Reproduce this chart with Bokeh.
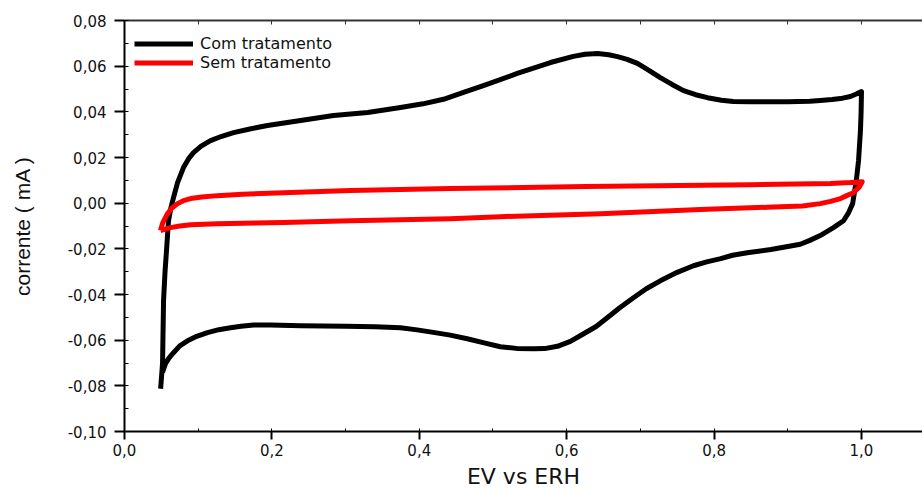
from bokeh.plotting import figure
from bokeh.models import (LinearAxis, SingleIntervalTicker, CustomJSTickFormatter,
                          Legend, LegendItem, Range1d)
from bokeh.embed import file_html
from bokeh.resources import INLINE

# Com tratamento (black): anodic sweep then cathodic sweep
com_x = [0.049, 0.0505, 0.0516, 0.053, 0.055, 0.057, 0.0597, 0.063, 0.0665, 0.072, 0.080,
         0.087, 0.0936, 0.104, 0.1167, 0.132, 0.148, 0.17, 0.194, 0.239, 0.2836, 0.330,
         0.3745, 0.405, 0.4328, 0.46, 0.487, 0.533, 0.578, 0.609, 0.625, 0.642, 0.657,
         0.669, 0.682, 0.696, 0.711, 0.727, 0.743, 0.7585, 0.775, 0.791, 0.81, 0.826,
         0.849, 0.90, 0.93, 0.944, 0.96, 0.9715, 0.985, 0.993, 1.0,
         0.9995, 0.9986, 0.996, 0.993, 0.988, 0.982, 0.9756, 0.962, 0.944, 0.93, 0.917,
         0.90, 0.877, 0.845, 0.825, 0.809, 0.79, 0.772, 0.75, 0.727, 0.708, 0.6906, 0.672,
         0.655, 0.64, 0.623, 0.605, 0.5875, 0.57, 0.555, 0.532, 0.510, 0.488, 0.465, 0.442,
         0.419, 0.397, 0.3745, 0.34, 0.30, 0.239, 0.198, 0.175, 0.158, 0.1438, 0.128,
         0.1126, 0.098, 0.0855, 0.075, 0.0665, 0.060, 0.0556, 0.0516]
com_y = [-0.0813, -0.0750, -0.0703, -0.0427, -0.0300, -0.0208, -0.0077, -0.0020, 0.0024,
         0.0090, 0.0156, 0.0195, 0.0221, 0.0250, 0.0274, 0.0293, 0.0309, 0.0325, 0.0340,
         0.0362, 0.0384, 0.0397, 0.0419, 0.0435, 0.0455, 0.0485, 0.0515, 0.0568, 0.0616,
         0.0643, 0.0652, 0.0655, 0.0650, 0.0642, 0.0630, 0.0612, 0.0583, 0.0550, 0.0520,
         0.0493, 0.0475, 0.0462, 0.0451, 0.0445, 0.0444, 0.0444, 0.0446, 0.0450, 0.0454,
         0.0458, 0.0467, 0.0478, 0.0489,
         0.0400, 0.0318, 0.0186, 0.0099, -0.0002, -0.0045, -0.0077, -0.0107, -0.0142,
         -0.0163, -0.0180, -0.0190, -0.0203, -0.0217, -0.0228, -0.0243, -0.0257, -0.0274,
         -0.0303, -0.0340, -0.0375, -0.0414, -0.0458, -0.0502, -0.0540, -0.0572, -0.0605,
         -0.0627, -0.0637, -0.0638, -0.0636, -0.0629, -0.0612, -0.0594, -0.0578, -0.0566,
         -0.0555, -0.0546, -0.0541, -0.0539, -0.0537, -0.0534, -0.0534, -0.0539, -0.0546,
         -0.0554, -0.0567, -0.0583, -0.0603, -0.0625, -0.0655, -0.0680, -0.0703, -0.0740]

# Sem tratamento (red)
sem_x = [0.0488, 0.052, 0.0583, 0.064, 0.072, 0.08, 0.0896, 0.105, 0.126, 0.16, 0.216,
         0.3066, 0.442, 0.6255, 0.849, 0.958, 0.985, 1.001,
         0.997, 0.989, 0.98, 0.9715, 0.958, 0.944, 0.92, 0.88, 0.849, 0.7815, 0.646, 0.510,
         0.442, 0.3066, 0.216, 0.126, 0.09, 0.075, 0.0624, 0.0488]
sem_y = [-0.0120, -0.0085, -0.0046, -0.0022, -0.0002, 0.0011, 0.0020, 0.0027, 0.0033,
         0.0039, 0.0046, 0.0055, 0.0064, 0.0073, 0.0081, 0.0086, 0.0090, 0.0094,
         0.0070, 0.0046, 0.0033, 0.0020, 0.0008, -0.0002, -0.0012, -0.0017, -0.0020,
         -0.0028, -0.0046, -0.0059, -0.0068, -0.0077, -0.0085, -0.0090, -0.0095, -0.0100,
         -0.0107, -0.0120]

series_names = ["Com tratamento", "Sem tratamento"]
x_label = "EV vs ERH"
y_label = "corrente ( mA )"

FONT = "DejaVu Sans"

p = figure(width=922, height=491, output_backend="svg", toolbar_location=None,
           x_range=Range1d(0.0, 1.0828), y_range=Range1d(-0.10, 0.08),
           min_border_left=124, min_border_right=0, min_border_top=20, min_border_bottom=60)
p.outline_line_color = None
p.xgrid.visible = False
p.ygrid.visible = False
p.background_fill_color = "white"
p.border_fill_color = "white"

r1 = p.line(com_x, com_y, line_color="black", line_width=5, line_join="round")
r2 = p.line(sem_x, sem_y, line_color="#ff0000", line_width=5, line_join="round")

xa = p.xaxis[0]
xa.ticker = SingleIntervalTicker(interval=0.2, num_minor_ticks=2)
xa.formatter = CustomJSTickFormatter(code="var t = Math.abs(tick) < 1e-9 ? 0 : tick; return t.toFixed(1).replace('.', ',');")
xa.axis_line_width = 2
xa.axis_line_color = "black"
xa.major_tick_out = 8
xa.major_tick_in = 0
xa.major_tick_line_width = 2
xa.minor_tick_in = 3
xa.minor_tick_out = 0
xa.minor_tick_line_width = 1
xa.major_label_text_font = FONT
xa.major_label_text_font_size = "15px"
xa.major_label_text_color = "#111111"
xa.major_label_standoff = 4
xa.axis_label = x_label
xa.axis_label_text_font = FONT
xa.axis_label_text_font_size = "22px"
xa.axis_label_text_font_style = "normal"
xa.axis_label_text_color = "#111111"
xa.axis_label_standoff = 5

ya = p.yaxis[0]
ya.ticker = SingleIntervalTicker(interval=0.02, num_minor_ticks=2)
ya.formatter = CustomJSTickFormatter(code="var t = Math.abs(tick) < 1e-9 ? 0 : tick; return t.toFixed(2).replace('.', ',');")
ya.axis_line_width = 2
ya.axis_line_color = "black"
ya.major_tick_out = 10
ya.major_tick_in = 0
ya.major_tick_line_width = 2
ya.minor_tick_in = 4
ya.minor_tick_out = 0
ya.minor_tick_line_width = 1
ya.major_label_text_font = FONT
ya.major_label_text_font_size = "15px"
ya.major_label_text_color = "#111111"
ya.major_label_standoff = 8
ya.axis_label = y_label
ya.axis_label_text_font = "Liberation Sans"
ya.axis_label_text_font_size = "21px"
ya.axis_label_text_font_style = "normal"
ya.axis_label_text_color = "#111111"
ya.axis_label_standoff = 31

top = LinearAxis(ticker=SingleIntervalTicker(interval=0.1, num_minor_ticks=0))
top.formatter = CustomJSTickFormatter(code="return '';")
top.axis_line_width = 2
top.axis_line_color = "#333333"
top.major_tick_in = 4
top.major_tick_out = 0
top.major_tick_line_color = "#333333"
top.minor_tick_in = 0
top.minor_tick_out = 0
top.major_label_text_font_size = "1px"
top.major_label_standoff = 0
p.add_layout(top, "above")

legend = Legend(items=[LegendItem(label=series_names[0], renderers=[r1]),
                       LegendItem(label=series_names[1], renderers=[r2])],
                location=(10, 359), orientation="vertical")
legend.border_line_color = None
legend.background_fill_alpha = 0
legend.margin = 0
legend.padding = 0
legend.spacing = 0
legend.label_height = 19
legend.glyph_height = 19
legend.glyph_width = 59
legend.label_standoff = 7
legend.label_text_font = FONT
legend.label_text_font_size = "16px"
legend.label_text_color = "#111111"
p.add_layout(legend, "center")

open("out.html", "w").write(file_html(p, INLINE))
